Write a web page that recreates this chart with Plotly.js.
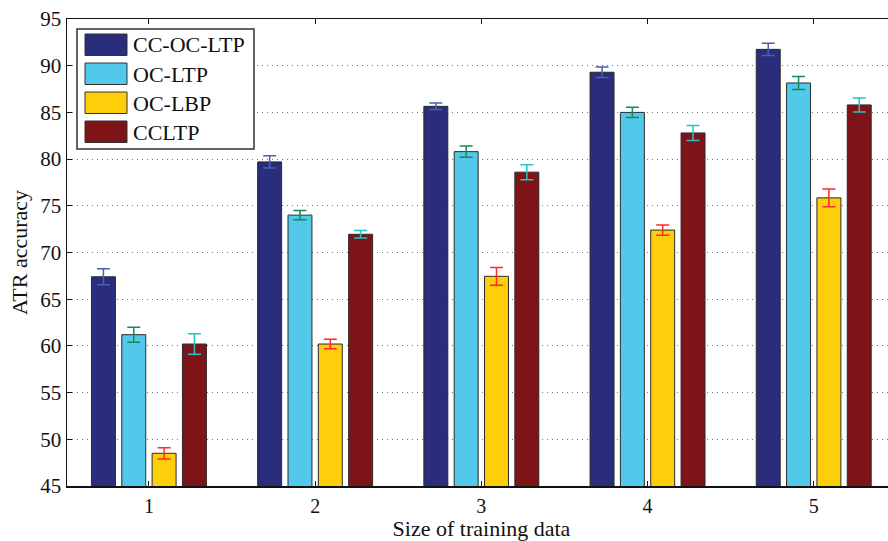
<!DOCTYPE html>
<html>
<head>
<meta charset="utf-8">
<script src="https://cdn.plot.ly/plotly-3.0.1.min.js"></script>
<style>
html,body{margin:0;padding:0;overflow:hidden;background:#fff;width:888px;height:541px;}
#chart{width:900px;height:541px;}
</style>
</head>
<body>
<div id="chart"></div>
<script>
// ---- data ----
var categories = [1, 2, 3, 4, 5];
var seriesNames = ["CC-OC-LTP", "OC-LTP", "OC-LBP", "CCLTP"];
var ccOcLtp     = [67.4, 79.7, 85.65, 89.3, 91.75];
var ccOcLtpErr  = [0.85, 0.65, 0.35, 0.55, 0.65];
var ocLtp       = [61.2, 74.0, 80.8, 85.0, 88.15];
var ocLtpErr    = [0.8, 0.5, 0.6, 0.55, 0.7];
var ocLbp       = [48.5, 60.2, 67.45, 72.4, 75.85];
var ocLbpErr    = [0.6, 0.5, 0.95, 0.55, 0.95];
var ccltp       = [60.2, 71.95, 78.6, 82.8, 85.8];
var ccltpErr    = [1.1, 0.4, 0.8, 0.8, 0.75];
var yTickVals   = [45, 50, 55, 60, 65, 70, 75, 80, 85, 90, 95];

// ---- styles ----
var barColors = ["#2a2c7c", "#52c8ea", "#fdcf0b", "#7f1418"];
var errColors = ["#4a5fb0", "#148a55", "#ff2a2a", "#22c4c4"];
var values = [ccOcLtp, ocLtp, ocLbp, ccltp];
var errors = [ccOcLtpErr, ocLtpErr, ocLbpErr, ccltpErr];
var FONT = "Liberation Serif, Times New Roman, serif";

var traces = seriesNames.map(function(name, i){
  return {
    type: "bar",
    name: name,
    x: categories,
    y: values[i],
    marker: {color: barColors[i], line: {color: "#2b2b2b", width: 1}},
    error_y: {type: "data", array: errors[i], visible: true, color: errColors[i], thickness: 1.5, width: 6.5},
    showlegend: false
  };
});

// ---- custom legend (MATLAB style) ----
var L = 67, T = 19, W = 829, H = 467;
function px(x){ return (x - L) / W; }
function py(y){ return (T + H - y) / H; }
var shapes = [{
  type: "rect", xref: "paper", yref: "paper",
  x0: px(77), x1: px(254), y0: py(149), y1: py(29),
  line: {color: "#333", width: 1.5}, fillcolor: "#fff", layer: "above"
}];
var annotations = [];
seriesNames.forEach(function(name, i){
  var top = 34 + i * 29;
  shapes.push({
    type: "rect", xref: "paper", yref: "paper",
    x0: px(85), x1: px(127), y0: py(top + 21.5), y1: py(top),
    fillcolor: barColors[i], line: {color: "#333", width: 1}, layer: "above"
  });
  annotations.push({
    xref: "paper", yref: "paper", x: px(131), y: py(top + 11),
    xanchor: "left", yanchor: "middle", showarrow: false, text: name,
    font: {family: FONT, size: 22, color: "#111"}
  });
});

var layout = {
  width: 900, height: 541,
  margin: {l: L, r: 900 - L - W, t: T, b: 541 - T - H},
  paper_bgcolor: "#fff", plot_bgcolor: "#fff",
  barmode: "group", bargap: 0.27, bargroupgap: 0.21,
  font: {family: FONT, size: 20, color: "#111"},
  xaxis: {
    range: [0.507, 5.495], tickvals: categories, ticktext: categories.map(String),
    ticks: "inside", ticklen: 5, tickcolor: "#111", showgrid: false, zeroline: false,
    showline: true, linecolor: "#111", linewidth: 1.5, mirror: "ticks",
    ticklabelstandoff: 1,
    tickfont: {family: FONT, size: 20, color: "#111"},
    title: {text: "Size of training data", font: {family: FONT, size: 22, color: "#111"}, standoff: 13}
  },
  yaxis: {
    range: [45, 95], tickvals: yTickVals, ticktext: yTickVals.map(String),
    ticks: "inside", ticklen: 5, tickcolor: "#111",
    showgrid: true, gridcolor: "#777", griddash: "1px,4px", gridwidth: 1, zeroline: false,
    showline: true, linecolor: "#111", linewidth: 1.5, mirror: "ticks",
    ticklabelstandoff: 0,
    tickfont: {family: FONT, size: 21, color: "#111"},
    title: {text: "ATR accuracy", font: {family: FONT, size: 22, color: "#111"}, standoff: 6}
  },
  shapes: shapes,
  annotations: annotations,
  showlegend: false
};

Plotly.newPlot("chart", traces, layout, {displayModeBar: false, staticPlot: true});
</script>
</body>
</html>
